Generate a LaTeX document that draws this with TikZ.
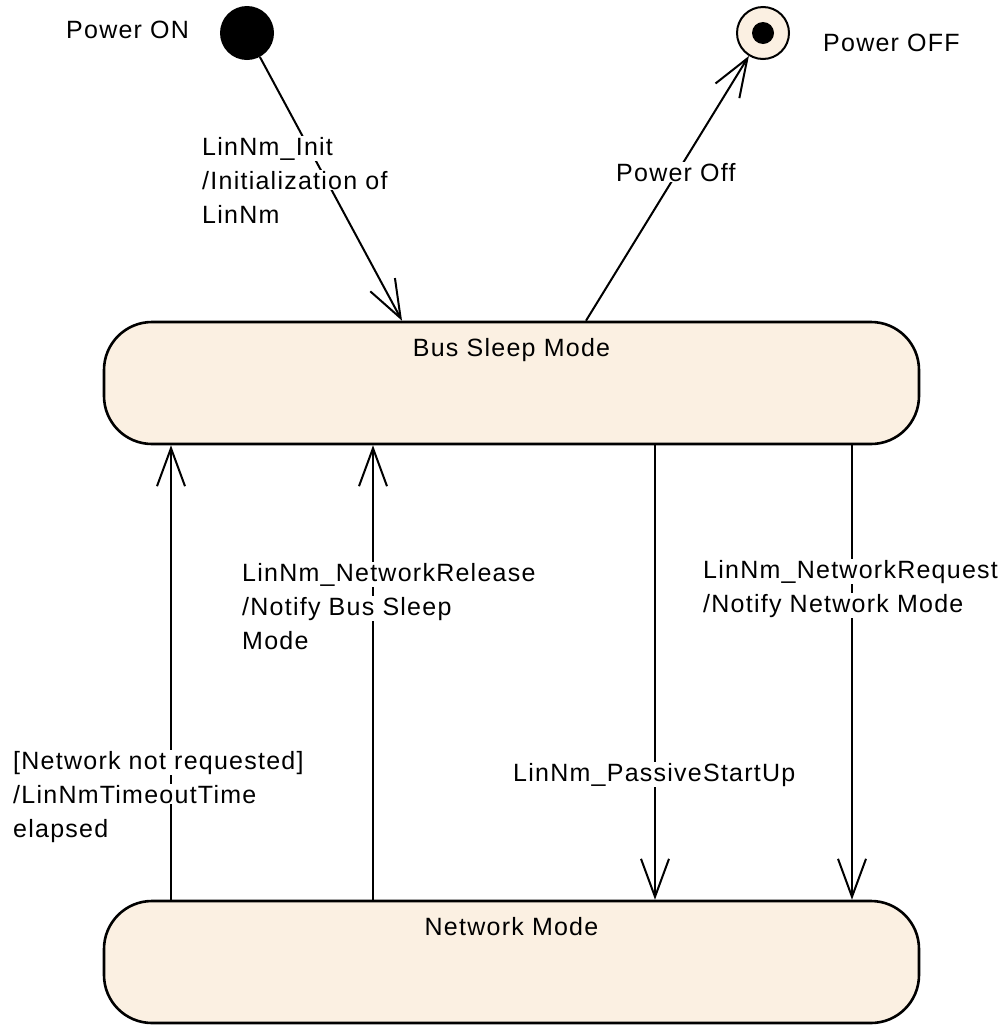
\documentclass[tikz,border=0pt]{standalone}
\usepackage{fontspec}
\setmainfont{Liberation Sans}[LetterSpace=5]
\usetikzlibrary{arrows.meta}
\definecolor{stfill}{RGB}{251,240,226}
\begin{document}
\begin{tikzpicture}[x=1pt,y=-1pt,
  state/.style={draw=black, line width=2.6pt, fill=stfill, rounded corners=48pt, minimum width=815pt, minimum height=122pt, inner sep=0pt},
  conn/.style={draw=black, line width=2pt, -{Straight Barb[length=38pt,width=28pt,line width=2pt]}},
  lbl/.style={font=\fontsize{25}{34}\selectfont, fill=white, inner sep=1pt, anchor=base west},
  stxt/.style={font=\fontsize{25}{34}\selectfont, anchor=base, inner sep=0pt},
  plain/.style={font=\fontsize{25}{34}\selectfont, anchor=base west, inner sep=0pt}
]
\useasboundingbox (0,0) rectangle (1008,1026);
% states
\node[state] (bs) at (511.5,383) {};
\node[state] (nm) at (511.5,962) {};
\node[stxt] (bst) at ([yshift=-36pt]bs.north) {Bus Sleep Mode};
\node[stxt] (nmt) at ([yshift=-36pt]nm.north) {Network Mode};
\node[circle, fill=black, minimum size=54pt, inner sep=0pt] (init) at (247,33) {};
\node[circle, draw=black, line width=2pt, fill=stfill, minimum size=52pt, inner sep=0pt] (fin) at (763,33) {};
\node[circle, fill=black, minimum size=22pt, inner sep=0pt] (findot) at (fin) {};
% x positions of connectors
\coordinate (xa) at (402,0);
\coordinate (xb) at (586,0);
\coordinate (x1) at (171,0);
\coordinate (x2) at (373,0);
\coordinate (x3) at (655,0);
\coordinate (x4) at (852,0);
% connectors
\draw[conn] (init) -- (bs.north -| xa);
\draw[conn] (bs.north -| xb) -- (fin);
\draw[conn] (nm.north -| x1) -- (bs.south -| x1);
\draw[conn] (nm.north -| x2) -- (bs.south -| x2);
\draw[conn] (bs.south -| x3) -- (nm.north -| x3);
\draw[conn] (bs.south -| x4) -- (nm.north -| x4);
% labels
\node[plain] (pon) at (66,38) {Power ON};
\node[plain] (poff) at (823,51) {Power OFF};
\node[lbl] (l1a) at (201,155) {LinNm\_Init};
\node[lbl] (l1b) at (201,189) {/Initialization of};
\node[lbl] (l1c) at (201,223) {LinNm};
\node[lbl] (l2) at (615,181) {Power Off};
\node[lbl] (l3a) at (241,581) {LinNm\_NetworkRelease};
\node[lbl] (l3b) at (241,615) {/Notify Bus Sleep};
\node[lbl] (l3c) at (241,649) {Mode};
\node[lbl] (l4a) at (702,578) {LinNm\_NetworkRequest};
\node[lbl] (l4b) at (702,612) {/Notify Network Mode};
\node[lbl] (l5a) at (12,769) {[Network not requested]};
\node[lbl] (l5b) at (12,803) {/LinNmTimeoutTime};
\node[lbl] (l5c) at (12,837) {elapsed};
\node[lbl] (l6) at (512,781) {LinNm\_PassiveStartUp};
\end{tikzpicture}
\end{document}
